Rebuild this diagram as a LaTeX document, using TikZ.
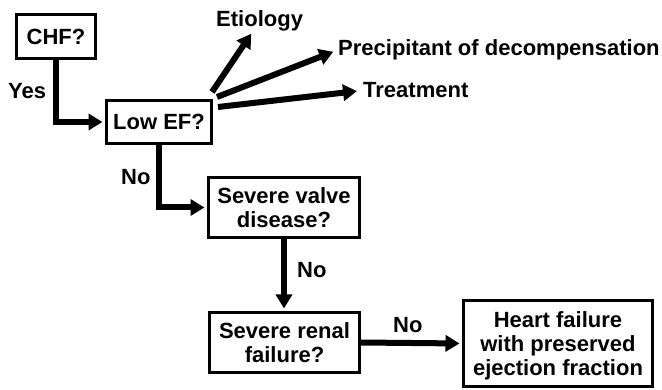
\documentclass[tikz,border=0pt]{standalone}
\usepackage{fontspec}
\setmainfont{Liberation Sans}
\usetikzlibrary{arrows.meta}

\begin{document}
\begin{tikzpicture}[x=1pt, y=-1pt,
	every node/.style = {font=\fontsize{22}{24}\selectfont\bfseries},
	box/.style = {draw, line width=2.6pt, align=center, inner sep=0pt},
	lbl/.style = {inner sep=1pt, anchor=base west},
	flow/.style = {line width=6pt, -{Triangle[length=14pt, width=16pt]}, shorten >=2.5pt}]
				\useasboundingbox (0,0) rectangle (662,390);
				\node[box, minimum width=79.4pt, minimum height=44.4pt] (chf) at (56,36.5) {CHF?};
				\node[box, minimum width=105.4pt, minimum height=43.4pt] (lowef) at (159,122) {Low EF?};
				\node[box, minimum width=151.4pt, minimum height=60.4pt] (valve) at (284,207.5) {Severe valve\\disease?};
				\node[box, minimum width=150.4pt, minimum height=60.4pt] (renal) at (284.5,342.5) {Severe renal\\failure?};
				\node[box, minimum width=189.4pt, minimum height=86.4pt] (heart) at (558,343.5) {Heart failure\\with preserved\\\smash{ejection fraction}};
				
				\node[lbl] (etio) at (215,27) {Etiology};
				\node[lbl] (precip) at (337,56) {Precipitant of decompensation};
				\node[lbl] (treat) at (362,98) {Treatment};
				
				\node[lbl] (yes) at (7,99) {Yes};
				\node[lbl] (no1) at (120,185) {No};
				\node[lbl] (no2) at (296,278) {No};
				\node[lbl] (no3) at (392,333) {No};
				
				% fan out of the Low EF? box
				\coordinate (f1) at (212,92);
				\coordinate (f2) at (217,97);
				\coordinate (f3) at (218,107);
				\draw[flow, shorten >=1pt] (f1) -- (etio);
				\draw[flow, shorten >=4pt] (f2) -- (precip.west);
				\draw[flow, shorten >=5pt] (f3) -- (treat.west);
				
				\draw[flow] (chf.south) |- (lowef.west);
				\draw[flow] (lowef.south) |- (valve.west);
				\draw[flow] (valve.south) -- (valve.south |- renal.north);
				\draw[flow] (renal.east) -- (heart.west);
			\end{tikzpicture}
\end{document}
